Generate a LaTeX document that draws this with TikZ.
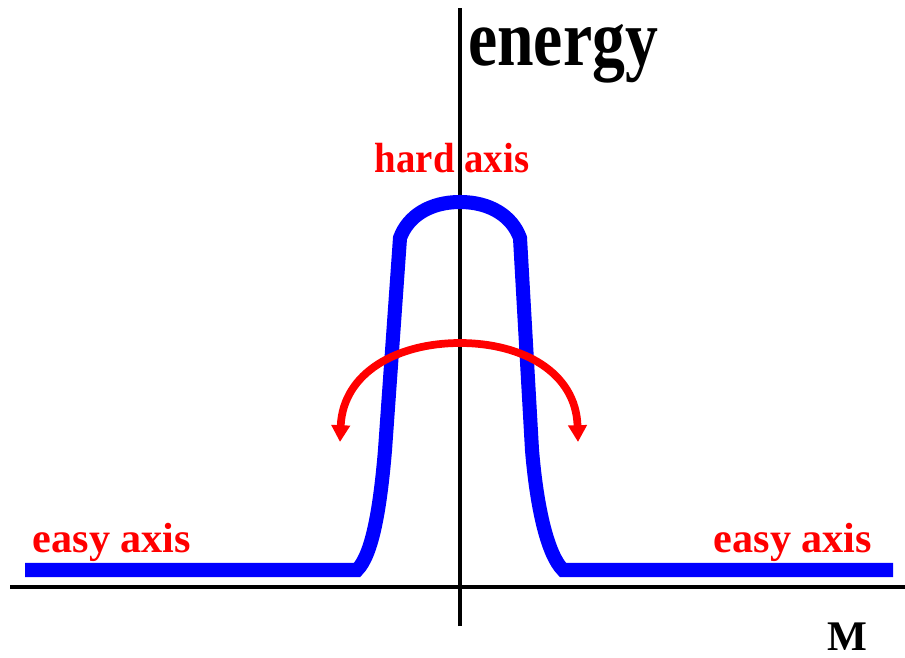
\documentclass[tikz,border=0pt]{standalone}
\usepackage{fontspec}
\setmainfont{Liberation Serif}
\usetikzlibrary{arrows.meta,positioning}

\begin{document}
\begin{tikzpicture}[
  x=0.025cm, y=-0.025cm,
  axisline/.style={line width=3.3pt, black},
  curve/.style={line width=10pt, blue},
  flip/.style={line width=5.5pt, red, {Triangle[width=0.45cm,length=0.42cm]}-{Triangle[width=0.45cm,length=0.42cm]}},
  redlabel/.style={font=\bfseries\fontsize{30}{32}\selectfont, text=red, inner sep=0pt},
  axislabel/.style={font=\bfseries\fontsize{30}{32}\selectfont, inner sep=0pt},
]
  \useasboundingbox (0,0) rectangle (905,657);

  % Axes
  \coordinate (mleft) at (10,587);
  \coordinate (mright) at (905,587);
  \coordinate (ebottom) at (460,626);
  \coordinate (etop) at (460,8);
  \draw[axisline] (mleft) -- (mright);
  \draw[axisline] (ebottom) -- (etop);

  % Energy curve
  \coordinate (flatl) at (25,570);
  \coordinate (footl) at (357,570);
  \coordinate (shoulderl) at (400,238);
  \coordinate (peak) at (460,202);
  \coordinate (shoulderr) at (520,238);
  \coordinate (footr) at (563,570);
  \coordinate (flatr) at (893,570);
  \draw[curve] (flatl) -- (footl)
    .. controls (372,555) and (380,510) .. (385,450) -- (shoulderl)
    .. controls (408,216) and (430,202) .. (peak)
    .. controls (490,202) and (512,216) .. (shoulderr)
    -- (532,450) .. controls (537,510) and (548,555) .. (footr) -- (flatr);

  % Rotation arrow
  \coordinate (flipl) at (340,442);
  \coordinate (fliptop) at (460,343);
  \coordinate (flipr) at (578,442);
  \draw[flip] (flipl) .. controls (343,372) and (398,343) .. (fliptop)
    .. controls (522,343) and (576,372) .. (flipr);

  % Labels
  \node[axislabel, anchor=base west, font=\bfseries\fontsize{57}{60}\selectfont, xscale=0.82] (energy) at (468,65) {energy};
  \node[axislabel, anchor=base] (mag) at (847,650) {M};
  \node[redlabel, anchor=base, xscale=0.92] (hard) at (452,172) {hard axis};
  \node[redlabel, anchor=base] (easyl) at (112,552) {easy axis};
  \node[redlabel, anchor=base] (easyr) at (793,552) {easy axis};
\end{tikzpicture}
\end{document}
